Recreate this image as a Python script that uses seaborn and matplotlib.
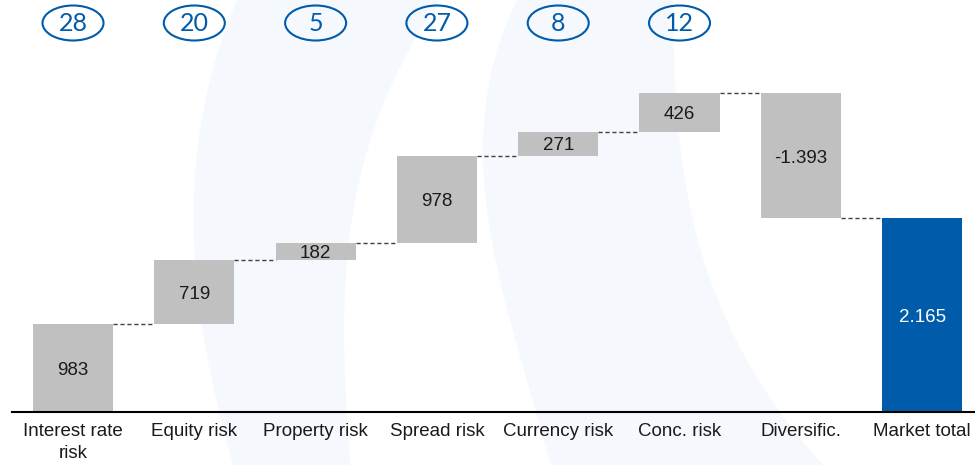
import numpy as np
import matplotlib
matplotlib.use("Agg")
import matplotlib.pyplot as plt
from matplotlib.patches import Ellipse, Polygon
import seaborn as sns

# Data
categories = ["Interest rate\nrisk", "Equity risk", "Property risk", "Spread risk",
              "Currency risk", "Conc. risk", "Diversific.", "Market total"]
steps = [983, 719, 182, 978, 271, 426, -1393]
total = 2165
shares = [28, 20, 5, 27, 8, 12]

GREY = "#C0C0C0"
BLUE = "#005CAA"

# waterfall geometry derived from the values
tops = np.cumsum(steps)
starts = np.concatenate([[0], tops[:-1]])
bottoms = list(np.minimum(starts, tops)) + [0]
heights = list(np.abs(steps)) + [total]
labels = [f"{v}" if abs(v) < 1000 else f"{v:,}".replace(",", ".") for v in steps] + \
         [f"{total:,}".replace(",", ".")]

sns.set_theme(style="white")
plt.rcParams["font.family"] = ["Liberation Sans", "DejaVu Sans"]

fig = plt.figure(figsize=(9.75, 4.65), dpi=100)


# faint watermark swooshes behind the chart (edges traced in pixel coords)
def swoosh(left_y, left_x, right_y, right_x):
    yy = np.linspace(0, 465, 60)
    lx = np.polyval(np.polyfit(left_y, left_x, 3), yy)
    rx = np.polyval(np.polyfit(right_y, right_x, 3), yy)
    xs = np.concatenate([lx, rx[::-1]]) / 975
    ys = 1 - np.concatenate([yy, yy[::-1]]) / 465
    fig.patches.append(Polygon(np.column_stack([xs, ys]), closed=True,
                               transform=fig.transFigure, facecolor="#F5F8FC",
                               edgecolor="none", zorder=-1))


swoosh([0, 120, 150, 330, 465], [237, 203, 196, 203, 233],
       [0, 120, 150, 300, 330, 465], [440, 380, 365, 342, 347, 350])
swoosh([0, 120, 150, 300, 330, 465], [517, 483, 485, 500, 517, 550],
       [0, 120, 150, 300, 330, 465], [673, 677, 681, 719, 730, 823])

ax = fig.add_axes([12 / 975, 53 / 465, 1 - 12 / 975, 1 - 53 / 465])
ax.patch.set_alpha(0)

sns.barplot(x=categories, y=heights, bottom=bottoms, color=GREY, saturation=1,
            width=0.66, linewidth=0, ax=ax)
ax.patches[-1].set_facecolor(BLUE)

# dashed connectors between neighbouring bars
w = 0.66
for i, lvl in enumerate(tops):
    ax.plot([i + w / 2, i + 1 - w / 2], [lvl, lvl], ls=(0, (3, 2)), color="#404040",
            lw=1, zorder=3)

# value labels
for i, (b, h, lab) in enumerate(zip(bottoms, heights, labels)):
    ax.text(i, b + h / 2 - 25, lab, ha="center", va="center", fontsize=13.5,
            color="white" if i == len(categories) - 1 else "#1a1a1a", zorder=4)

# share ellipses on top
ax.set_ylim(0, 4603)
ax.set_xlim(-0.503, 7.436)
ey = 4346
for i, s in enumerate(shares):
    ax.add_patch(Ellipse((i, ey), 0.503, 391, facecolor="none", edgecolor=BLUE,
                         lw=1.5, clip_on=False, zorder=5))
    ax.text(i, ey - 10, str(s), ha="center", va="center", fontsize=18,
            color=BLUE, family=["Lato", "DejaVu Sans"], zorder=6)

for sp in ["top", "right", "left"]:
    ax.spines[sp].set_visible(False)
ax.spines["bottom"].set_color("black")
ax.spines["bottom"].set_linewidth(1.5)
ax.set_yticks([])
ax.set_ylabel("")
ax.tick_params(axis="x", length=0, pad=8, labelsize=13.5, labelcolor="#1a1a1a")
for t in ax.get_xticklabels():
    t.set_linespacing(1.4)

fig.savefig("out.png", dpi=100)
